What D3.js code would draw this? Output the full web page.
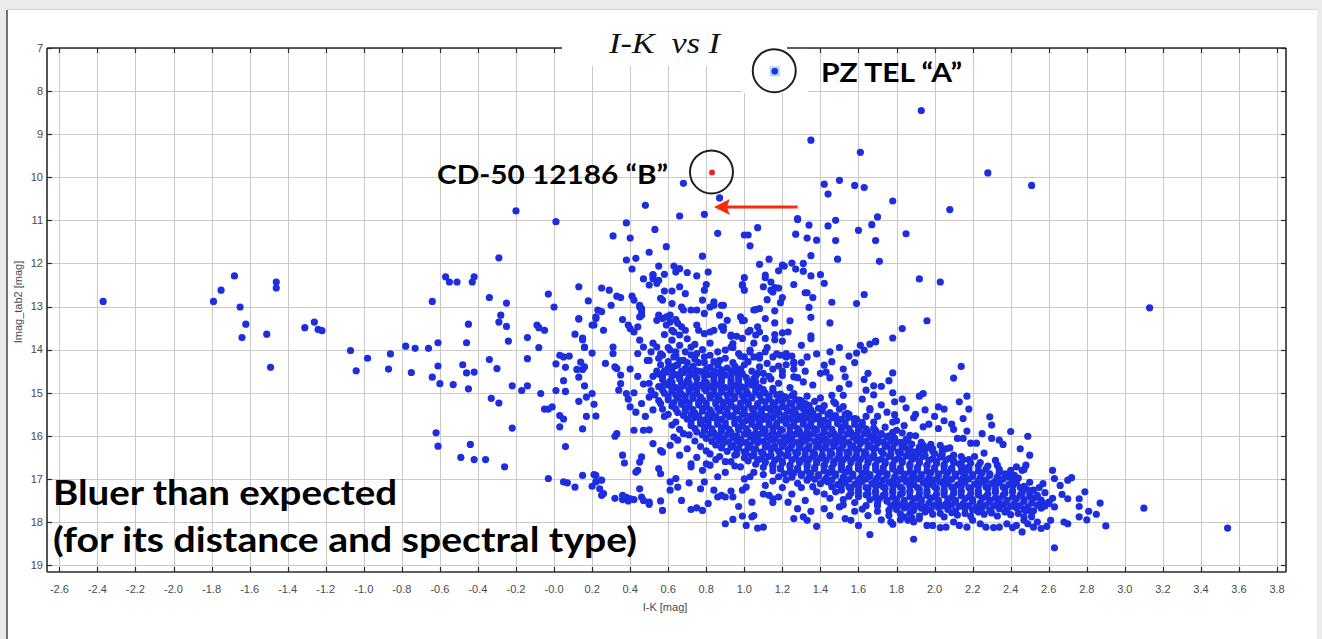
<!DOCTYPE html>
<html><head><meta charset="utf-8">
<script src="https://cdn.jsdelivr.net/npm/d3@7"></script>
<style>
html,body{margin:0;padding:0;background:#ebebeb;}
svg{display:block;}
</style></head><body>
<svg id="chart" width="1322" height="639"></svg>
<script>
// ---------- data ----------
const xTickLabels = ["-2.6","-2.4","-2.2","-2.0","-1.8","-1.6","-1.4","-1.2","-1.0","-0.8","-0.6","-0.4","-0.2","-0.0","0.2","0.4","0.6","0.8","1.0","1.2","1.4","1.6","1.8","2.0","2.2","2.4","2.6","2.8","3.0","3.2","3.4","3.6","3.8"];
const yTickLabels = ["7","8","9","10","11","12","13","14","15","16","17","18","19"];
const chartTitle = "I-K  vs I";
const xAxisTitle = "I-K [mag]";
const yAxisTitle = "Imag_tab2 [mag]";

const starA = [1.16, 7.54];   // PZ Tel "A"
const starB = [0.83, 9.89];   // CD-50 12186 "B"
const arrowFrom = [1.28, 10.69];
const arrowTo = [0.84, 10.69];

const blueStarsLeft = [
[-2.37,12.88],[-1.79,12.88],[-1.75,12.62],[-1.68,12.29],[-1.65,13.01],[-1.62,13.41],[-1.64,13.72],[-1.51,13.64],[-1.46,12.43],[-1.46,12.57],[-1.49,14.41],[-1.31,13.49],[-1.26,13.36],[-1.24,13.53],[-1.22,13.56],[-1.07,14.02],[-1.04,14.49],[-0.98,14.20],[-0.86,14.10],[-0.87,14.45],[-0.78,13.92],[-0.73,13.97],[-0.75,14.53],[-0.66,13.97],[-0.64,12.88],[-0.61,13.84],[-0.64,14.64],[-0.61,14.38],[-0.60,14.79],[-0.62,15.93],[-0.61,16.24],
[-0.57,12.31],[-0.55,12.43],[-0.51,12.43],[-0.43,12.43],[-0.42,12.31],[-0.34,12.79],[-0.25,12.92],[-0.45,13.41],[-0.28,13.20],[-0.29,13.36],[-0.25,13.46],[-0.53,14.81],[-0.48,14.35],[-0.46,14.54],[-0.42,14.52],[-0.46,13.84],[-0.45,14.91],[-0.34,14.23],[-0.30,14.44],[-0.24,13.80],[-0.14,13.72],[-0.08,13.95],[-0.14,14.21],[-0.22,14.84],[-0.17,14.95],[-0.14,14.84],[-0.07,15.02],[-0.33,15.13],[-0.29,15.24],[-0.22,15.82],[-0.44,16.20],[-0.49,16.50],[-0.42,16.55],[-0.36,16.55],[-0.26,16.72],[-0.03,16.99],[0.05,17.07],[0.07,17.09],[0.11,17.19],[0.15,16.92],[0.22,16.92],[0.20,17.17],[0.22,17.07],
[-0.05,13.55],[0.01,14.33],[0.03,14.13],[0.05,14.17],[0.08,14.15],[0.06,14.41],[0.11,13.64],[0.15,13.77],[0.16,13.95],[0.20,14.08],[0.14,14.29],[0.12,14.46],[0.15,14.46],[0.16,14.40],[0.13,14.64],[0.05,14.72],[0.01,14.95],[0.06,14.97],[0.16,14.84],[0.20,15.02],[0.17,15.10],[0.13,15.20],[0.21,15.27],[-0.05,15.38],[-0.03,15.38],[-0.01,15.33],[0.03,15.53],[0.05,15.61],[0.03,15.79],[0.15,15.84],[0.17,15.55],[0.22,15.54],[0.06,16.25],
[0.01,11.03],[0.38,11.06],[-0.29,11.87],[-0.09,13.43],[-0.08,13.49],[-0.03,12.71],[0.00,13.01],[0.13,12.54],[0.13,13.29],[0.18,12.87],[0.25,12.57],[0.29,12.62],[0.30,12.97],[0.21,13.43],[0.22,13.24],[0.23,13.08],[0.25,13.12],[0.26,13.55],[0.15,13.73],[0.16,13.94],[0.27,14.32],[0.31,13.94],[0.31,14.09],[0.33,12.76],[0.35,12.79],[0.36,13.30],[0.32,14.40],[0.33,14.44],[0.35,14.59],[0.35,14.79],[0.34,14.94],[0.38,15.02],[0.40,15.33],[0.31,11.36],[0.40,11.41],[0.38,11.92],[0.43,11.88],[0.41,12.13],[0.50,11.74],[0.53,11.21],[0.59,11.61],
[0.47,12.36],[0.50,12.50],[0.52,12.35],[0.52,12.27],[0.54,12.46],[0.55,12.39],[0.41,12.76],[0.42,12.85],[0.45,13.01],[0.46,13.12],[0.45,13.24],[0.39,13.43],[0.40,13.51],[0.42,13.59],[0.44,13.47],[0.13,13.28],[0.22,13.28],[0.20,13.43]
];

const blueStarsUpper = [
[1.35,9.14],[1.61,9.42],[1.42,10.16],[1.50,10.07],[1.58,10.19],[1.63,10.24],[1.44,10.39],[0.68,10.14],[0.87,10.48],[0.48,10.65],[0.66,10.90],[0.79,10.86],[-0.20,10.78],[1.28,10.96],[1.48,11.00],[1.70,10.92],[1.93,8.45],[2.28,9.90],[2.51,10.19],[1.78,10.55],[2.08,10.75],
[0.86,11.30],[0.78,11.83],[0.52,12.26],[0.55,12.06],[0.58,12.25],[0.63,12.06],[0.66,12.12],[0.64,12.20],[0.70,12.21],[0.75,12.29],[0.81,12.20],[0.58,12.64],[0.62,12.64],[0.66,12.54],[0.69,12.70],[0.57,12.85],[0.56,12.81],[0.80,12.49],[0.79,12.62],[0.78,12.85],[0.62,12.93],[0.67,13.01],[0.68,13.08],[0.72,13.08],[0.84,12.89],[0.82,13.01],[0.45,12.97],[0.46,13.05],[0.46,13.20],[0.55,13.20],[0.54,13.32],[0.57,13.28],[0.59,13.24],[0.61,13.36],[0.64,13.30],[0.65,13.39],[0.67,13.47],[0.69,13.55],[0.62,13.55],[0.59,13.43],[0.75,13.43],[0.76,13.55],[0.79,13.63],[0.82,13.59],[0.84,13.55],
[1.28,10.98],[1.34,11.11],[1.44,11.13],[1.60,11.23],[1.67,11.10],[1.85,11.31],[1.69,11.47],[1.07,11.17],[1.00,11.34],[1.02,11.34],[1.03,11.59],[1.27,11.32],[1.33,11.41],[1.38,11.46],[1.48,11.47],[1.35,11.82],[1.49,11.90],[1.71,11.95],[1.13,11.90],[1.08,12.02],[1.20,12.04],[1.21,12.06],[1.18,12.17],[1.25,11.99],[1.27,12.13],[1.31,12.00],[1.31,12.18],[1.35,12.29],[1.40,12.26],[1.42,12.46],[1.11,12.27],[1.11,12.33],[1.14,12.43],[1.10,12.54],[1.14,12.62],[1.16,12.56],[1.18,12.57],[1.15,12.66],[1.20,12.79],[1.19,12.91],[1.12,12.84],[1.00,12.33],[0.99,12.49],[1.00,12.62],[1.26,12.49],[1.32,12.68],[1.33,12.68],[1.36,12.79],[1.34,13.02],[1.35,13.25],[1.46,12.90],[1.59,12.93],[1.63,12.72],[1.92,12.36],[2.03,12.43],
[0.89,12.97],[1.06,13.07],[1.11,13.28],[1.16,13.10],[1.16,13.38],[1.24,13.33],[1.20,13.61],[1.23,13.59],[1.35,13.68],[1.45,13.38],[1.83,13.51],[1.96,13.33],[1.69,13.80],[1.78,13.73],[0.98,13.24],[0.99,13.33],[0.88,13.47],[0.89,13.55],[0.93,13.69],[0.96,13.69],[1.02,13.59],[1.07,13.47],[1.08,13.59],[1.11,13.74],[1.16,13.77],
[0.61,13.20],[0.66,13.66],[0.63,13.59],[0.75,13.08],[0.79,13.16],[0.84,12.97],[0.88,12.97],[0.87,13.20],[0.91,13.32],[0.89,13.47],[0.93,13.66],[0.94,13.86],[0.99,13.74],[1.03,13.55],[1.06,13.66],[1.00,13.32],[0.99,12.51],[1.05,13.08],[1.08,13.05]
];

const blueStarsRight = [
[3.13,13.03],[2.14,14.39],[2.10,14.66],[1.78,14.54],[1.76,14.72],[1.92,15.08],[1.94,15.02],[1.79,15.21],[1.79,15.51],[2.02,15.33],[2.05,15.38],[2.13,15.21],[2.17,15.08],[2.18,15.38],[2.29,15.56],[1.89,15.58],
[1.61,13.90],[1.66,13.87],[1.69,13.82],[1.59,14.08],[1.63,14.01],[1.42,14.36],[1.46,14.28],[1.43,14.52],[1.53,14.63],[1.63,14.69],[1.68,14.84],[1.64,14.94],[1.33,14.17],[1.26,14.29],[1.22,14.09],[1.26,14.63],[1.31,14.75],[1.29,15.17],[1.46,15.06],[1.52,15.06],[1.47,15.21],[1.66,15.37],[1.58,15.60],[1.54,15.48],
[1.45,14.65],[1.50,14.90],[1.55,14.80],[1.62,15.15],[1.68,15.05],[1.72,15.28],[1.75,15.45],[1.80,15.65],[1.85,15.35],[1.70,15.55],[1.66,15.40],[1.40,14.55],[1.36,14.82],[1.48,15.25],[1.52,14.45],[1.58,14.30],[1.65,14.55],[1.72,14.85],[1.78,15.00],[1.83,15.15],[1.90,15.50],[1.95,15.40],[2.00,15.55],[2.05,15.65],[2.10,15.85],[2.15,15.60],[2.25,15.95],[2.30,15.75],[2.40,15.90],[2.36,16.20],[2.45,16.30],[2.50,16.45],[1.26,14.45],[1.30,14.30],[1.20,14.60],[1.38,14.10],[1.45,14.05],[1.50,13.95],[1.55,14.15],
[2.49,16.01],[2.30,16.06],[2.34,16.10],[2.17,15.89],[2.22,16.17],[2.19,16.17],[2.15,16.06],[2.12,16.06],[2.09,15.73],[2.02,15.83],[1.97,15.73],[1.94,15.79],[1.87,15.99],[1.83,15.93],[1.78,16.03],[1.80,15.87],[1.84,15.76],[1.78,15.68],[2.26,16.40],[2.21,16.48],[2.17,16.75],[2.13,16.65],[2.10,16.45],[2.06,16.30],[2.03,16.22],[1.99,16.30],[1.94,16.22],[1.92,16.34],[1.89,16.45],[1.83,16.26],[2.32,16.57],[2.33,16.68],[2.37,16.88],[2.40,16.80],[2.43,16.72],[2.46,16.80],[2.48,16.68],[2.47,16.78],[2.42,16.92],[2.39,16.96],[2.34,17.07],[2.47,17.17],[2.48,17.23],[2.52,17.26],[2.54,17.42],[2.57,17.11],[2.62,16.80],[2.63,16.99],[2.66,17.15],[2.70,17.03],[2.72,16.97],[2.67,17.36],[2.70,17.46],[2.76,17.46],[2.76,17.64],[2.79,17.30],[2.76,17.88],[2.80,17.95],[2.81,17.75],[2.85,17.82],[2.87,17.56],[2.90,18.09],[2.68,18.00],[2.70,18.04],[2.63,17.65],[2.60,17.54],[2.57,17.57],[2.61,17.96],[2.56,18.15],[2.59,18.10],[2.63,18.60],[3.54,18.14],[3.10,17.68],[2.46,18.23],
[2.48,17.73],[2.51,17.88],[2.54,18.00],[2.52,18.12],[2.49,18.04],[2.47,17.96],[2.43,18.08],[2.41,18.13],[2.38,18.04],[2.34,18.12],[2.31,18.13],[2.27,18.12],[2.24,18.04],[2.20,17.96],[2.17,18.12],[2.13,18.08],[2.10,18.00],[2.06,18.12],[2.03,18.13],[1.99,18.08],[1.96,18.08],[1.92,17.92],[1.89,18.00],[1.86,17.96],[1.77,18.00],[1.89,18.40],[1.84,17.88],[1.82,17.81],[1.76,17.73]
];

const blueStarsLower = [
[0.21,16.90],[0.25,17.03],[0.24,17.23],[0.26,17.34],[0.25,17.38],[0.32,17.45],[0.36,17.38],[0.38,17.43],[0.36,17.48],[0.39,17.51],[0.40,17.46],[0.42,17.48],[0.45,17.23],[0.46,17.42],[0.47,17.50],[0.50,17.54],[0.50,17.59],[0.56,17.51],[0.57,17.73],[0.67,17.50],[0.72,17.71],[0.75,17.67],[0.78,17.73],[0.81,17.57],[0.90,18.04],[0.94,17.94],[0.99,17.86],[1.01,18.08],[1.04,17.88],[1.05,17.85],[1.07,18.14],[1.10,18.12],[0.36,16.45],[0.37,16.63],[0.44,16.80],[0.45,16.61],[0.46,16.49],[0.43,16.84],[0.55,16.76],[0.56,16.88],[0.61,17.07],[0.61,17.26],[0.64,16.99],[0.65,17.19],[0.72,16.72],[0.71,17.09],[0.77,17.23],[0.79,17.07],[0.80,16.65],[0.82,16.68],[0.84,17.26],[0.86,17.42],[0.88,17.38],[0.90,17.42],[0.93,17.28],[0.94,17.42],[0.97,17.64],[0.99,17.26],[1.01,17.19],[1.04,17.54],[1.11,17.15],[1.13,17.38],[1.15,17.46],[1.18,17.42],[1.23,17.54],[1.26,17.92],[1.28,17.69],[1.31,17.88],[1.33,17.96],[1.38,18.10],[1.42,17.69],[1.50,17.65],[1.53,17.92],[1.56,17.96],[1.60,18.08],[1.66,18.29],
[1.20,17.20],[1.25,17.35],[1.32,17.50],[1.38,17.30],[1.45,17.45],[1.52,17.60],[1.58,17.75],[1.65,17.85],[1.72,17.95],[1.78,18.05],[1.10,17.35],[1.15,17.55],[1.35,17.75],[1.45,17.85],[1.62,17.70],[1.70,17.75],[1.55,17.40],[1.28,17.10],[1.18,16.95],[1.05,16.85],[1.00,17.00],[0.95,16.70],[0.90,16.85],
[0.65,16.10],[0.70,16.30],[0.75,16.50],[0.80,16.35],[0.85,16.55],[0.90,16.60],[0.72,16.65],[0.68,15.95],[0.62,15.75],[0.58,15.55],[0.66,16.45],[0.78,16.80],[0.86,16.95],[0.95,16.45],
[0.40,14.45],[0.44,14.62],[0.47,14.80],[0.42,15.00],[0.50,15.10],[0.46,15.25],[0.52,15.40],[0.48,15.55],[0.54,14.50],[0.51,14.95],[0.43,15.45],[0.56,15.25],[0.39,15.15],
[0.42,15.87],[0.50,15.86],[0.47,15.87],[0.52,16.18],[0.56,16.34],[0.57,16.38],[0.63,16.03],[0.61,16.22],[0.33,15.95],[0.32,16.01]
];

const blueStarsMid = [
[0.45,13.78],[0.47,13.94],[0.44,14.09],[0.49,14.25],[0.51,14.05],[0.54,13.94],[0.57,14.13],[0.61,14.01],[0.64,14.13],[0.63,14.17],[0.66,14.25],[0.69,14.05],[0.72,13.94],[0.75,14.09],[0.79,14.17],[0.82,14.13],[0.87,14.25],[0.90,14.01],[0.93,13.94],[0.97,14.09],[1.00,14.17],[1.03,14.01],[1.05,14.17],[1.08,14.13],[1.11,14.05],[1.15,14.17],[1.19,14.13],[1.22,14.17],[1.26,14.32],
[1.12,13.95],[1.17,14.10],[1.22,14.35],[1.08,14.20],[1.03,14.05],[1.15,14.45],[1.10,14.55],[1.25,14.15],[1.30,13.90],[1.20,13.80],[1.05,13.85],[1.32,14.50],[1.00,14.35],[1.28,14.65],[1.16,13.65],[1.35,13.75],
[0.58,13.65],[0.62,13.78],[0.66,13.90],[0.70,13.75],[0.74,13.88],[0.78,14.00],[0.72,14.12],[0.68,14.25],[0.64,14.05],[0.60,13.95],[0.56,14.10],[0.82,13.85],[0.86,14.05],[0.90,14.20],[0.94,13.95],[0.98,14.15],[0.76,14.30],[0.84,14.28],[0.52,13.85],[0.50,14.25]
];

const blueStarsEdge = [
[1.07,14.55],[1.13,14.62],[1.10,14.72],[1.18,14.78],[1.15,14.90],[1.24,14.88],[1.26,15.02],[1.33,15.08],[1.37,15.20],[1.42,15.30],[1.40,15.12],[1.50,15.38],[1.55,15.50],[1.52,15.32],[1.64,15.55],[1.68,15.68],[1.74,15.80],[1.72,15.95],[1.78,15.92],[1.85,16.08],[1.90,16.00],[1.93,16.15],[1.98,16.20],[2.04,16.35],[2.08,16.28],[2.14,16.48],[2.18,16.55],[2.24,16.62],[2.28,16.70],[2.34,16.78],[2.40,16.86],[2.44,16.98],[2.50,17.08],[2.55,17.20],[2.58,17.32],[2.62,17.45],
[0.52,14.62],[0.50,14.78],[0.53,15.05],[0.55,15.18],[0.57,15.38],[0.60,15.50],[0.64,15.68],[0.66,15.85],[0.71,15.98],[0.74,16.12],[0.77,16.25],[0.82,16.42],[0.87,16.48],[0.93,16.60],[0.98,16.72],[1.03,16.95],[1.10,16.90],[1.15,17.05],[1.22,17.02],[1.30,17.20],[1.36,17.18],[1.42,17.35],[1.48,17.30],[1.52,17.48],[1.58,17.55],[1.64,17.62],[1.70,17.62],[1.76,17.85],[1.82,17.95],[1.88,17.90],
[0.98,14.45],[1.04,14.50],[1.08,14.40],[1.12,14.32],[1.18,14.38],[1.02,14.28],[0.94,14.30],[1.06,14.62],[1.14,14.68],[1.20,14.50],
[0.56,14.35],[0.60,14.28],[0.65,14.35],[0.70,14.30],[0.74,14.22],[0.79,14.30],[0.55,14.20],[0.62,14.40]
];

const blueStarsCore = [
[0.60,14.42],[0.64,14.37],[0.69,14.44],[0.73,14.39],[0.82,14.41],[0.86,14.36],[0.91,14.43],[0.95,14.38],
[0.55,14.57],[0.59,14.52],[0.64,14.58],[0.68,14.53],[0.73,14.56],[0.77,14.51],[0.81,14.58],[0.86,14.54],[0.90,14.59],[0.95,14.52],[0.99,14.56],
[0.57,14.69],[0.61,14.73],[0.66,14.68],[0.70,14.72],[0.75,14.67],[0.79,14.74],[0.84,14.70],[0.88,14.66],[0.93,14.72],[0.97,14.69],[1.02,14.74],[1.05,14.67],
[0.55,14.86],[0.60,14.82],[0.64,14.88],[0.68,14.84],[0.73,14.87],[0.77,14.83],[0.82,14.86],[0.86,14.81],[0.90,14.88],[0.95,14.84],[0.99,14.87],[1.04,14.82],[1.08,14.88],
[0.58,15.01],[0.62,14.97],[0.67,15.03],[0.71,14.98],[0.75,15.02],[0.80,14.96],[0.84,15.03],[0.88,14.99],[0.93,15.02],[0.97,14.97],[1.02,15.03],[1.06,14.98],[1.11,15.01],[1.15,14.96],[1.19,15.03],
[0.60,15.16],[0.65,15.12],[0.69,15.18],[0.73,15.13],[0.78,15.17],[0.82,15.12],[0.87,15.16],[0.91,15.19],[0.95,15.13],[1.00,15.17],[1.04,15.12],[1.09,15.18],[1.13,15.14],[1.18,15.17],[1.22,15.12],[1.27,15.16],[1.30,15.19],
[0.62,15.31],[0.67,15.27],[0.71,15.33],[0.76,15.28],[0.80,15.32],[0.85,15.26],[0.89,15.33],[0.93,15.29],[0.98,15.32],[1.02,15.27],[1.07,15.31],[1.11,15.34],[1.16,15.28],[1.20,15.32],[1.25,15.27],[1.29,15.33],[1.34,15.29],
[0.65,15.46],[0.69,15.42],[0.74,15.47],[0.78,15.43],[0.83,15.48],[0.87,15.42],[0.91,15.46],[0.96,15.43],[1.00,15.48],[1.05,15.44],[1.09,15.47],[1.14,15.42],[1.18,15.46],[1.23,15.43],[1.27,15.48],[1.32,15.44],[1.36,15.47],[1.41,15.42],[1.45,15.46],
[0.70,15.61],[0.74,15.57],[0.79,15.63],[0.83,15.58],[0.88,15.62],[0.92,15.56],[0.97,15.61],[1.01,15.64],[1.06,15.58],[1.10,15.62],[1.15,15.57],[1.19,15.63],[1.24,15.59],[1.28,15.62],[1.33,15.57],[1.37,15.61],[1.42,15.64],[1.46,15.58],[1.51,15.62],[1.55,15.57],[1.59,15.61],
[0.72,15.76],[0.77,15.72],[0.81,15.77],[0.86,15.73],[0.90,15.78],[0.95,15.72],[0.99,15.76],[1.04,15.73],[1.08,15.78],[1.13,15.74],[1.17,15.77],[1.22,15.72],[1.26,15.76],[1.31,15.73],[1.35,15.78],[1.40,15.74],[1.44,15.77],[1.49,15.72],[1.53,15.76],[1.58,15.73],[1.62,15.77],
[0.75,15.91],[0.79,15.87],[0.84,15.93],[0.88,15.88],[0.93,15.92],[0.97,15.86],[1.02,15.91],[1.06,15.94],[1.11,15.88],[1.15,15.92],[1.20,15.87],[1.24,15.93],[1.29,15.89],[1.33,15.92],[1.38,15.87],[1.42,15.91],[1.47,15.94],[1.51,15.88],[1.56,15.92],[1.60,15.87],[1.65,15.91],[1.69,15.88],
[0.80,16.06],[0.85,16.02],[0.89,16.07],[0.94,16.03],[0.98,16.08],[1.03,16.02],[1.07,16.06],[1.12,16.03],[1.16,16.08],[1.21,16.04],[1.25,16.07],[1.30,16.02],[1.34,16.06],[1.39,16.03],[1.43,16.08],[1.48,16.04],[1.52,16.07],[1.57,16.02],[1.61,16.06],[1.66,16.03],[1.70,16.07],[1.75,16.02],[1.79,16.06],
[0.85,16.21],[0.89,16.17],[0.94,16.23],[0.98,16.18],[1.03,16.22],[1.07,16.16],[1.12,16.21],[1.16,16.24],[1.21,16.18],[1.25,16.22],[1.30,16.17],[1.34,16.23],[1.39,16.19],[1.43,16.22],[1.48,16.17],[1.52,16.21],[1.57,16.24],[1.61,16.18],[1.66,16.22],[1.70,16.17],[1.75,16.21],[1.79,16.18],[1.84,16.23],[1.88,16.19],
[0.91,16.36],[0.96,16.32],[1.00,16.37],[1.05,16.33],[1.09,16.38],[1.14,16.32],[1.18,16.36],[1.23,16.33],[1.27,16.38],[1.32,16.34],[1.36,16.37],[1.41,16.32],[1.45,16.36],[1.50,16.33],[1.54,16.38],[1.59,16.34],[1.63,16.37],[1.68,16.32],[1.72,16.36],[1.77,16.33],[1.81,16.38],[1.86,16.34],[1.90,16.37],[1.95,16.32],[1.99,16.36],
[1.00,16.51],[1.04,16.47],[1.09,16.53],[1.13,16.48],[1.18,16.52],[1.22,16.46],[1.27,16.51],[1.31,16.54],[1.36,16.48],[1.40,16.52],[1.45,16.47],[1.49,16.53],[1.54,16.49],[1.58,16.52],[1.63,16.47],[1.67,16.51],[1.72,16.54],[1.76,16.48],[1.81,16.52],[1.85,16.47],[1.90,16.51],[1.94,16.48],[1.99,16.53],[2.03,16.49],[2.08,16.52],
[1.06,16.66],[1.11,16.62],[1.15,16.67],[1.20,16.63],[1.24,16.68],[1.29,16.62],[1.33,16.66],[1.38,16.63],[1.42,16.68],[1.47,16.64],[1.51,16.67],[1.56,16.62],[1.60,16.66],[1.65,16.63],[1.69,16.68],[1.74,16.64],[1.78,16.67],[1.83,16.62],[1.87,16.66],[1.92,16.63],[1.96,16.68],[2.01,16.64],[2.05,16.67],[2.10,16.62],[2.14,16.66],[2.19,16.63],
[1.15,16.81],[1.19,16.77],[1.24,16.83],[1.28,16.78],[1.33,16.82],[1.37,16.76],[1.42,16.81],[1.46,16.84],[1.51,16.78],[1.55,16.82],[1.60,16.77],[1.64,16.83],[1.69,16.79],[1.73,16.82],[1.78,16.77],[1.82,16.81],[1.87,16.84],[1.91,16.78],[1.96,16.82],[2.00,16.77],[2.05,16.81],[2.09,16.78],[2.14,16.83],[2.18,16.79],[2.23,16.82],[2.27,16.77],
[1.25,16.96],[1.30,16.92],[1.34,16.97],[1.39,16.93],[1.43,16.98],[1.48,16.92],[1.52,16.96],[1.57,16.93],[1.61,16.98],[1.66,16.94],[1.70,16.97],[1.75,16.92],[1.79,16.96],[1.84,16.93],[1.88,16.98],[1.93,16.94],[1.97,16.97],[2.02,16.92],[2.06,16.96],[2.11,16.93],[2.15,16.98],[2.20,16.94],[2.24,16.97],[2.29,16.92],[2.33,16.96],[2.38,16.93],
[1.40,17.11],[1.44,17.07],[1.49,17.13],[1.53,17.08],[1.58,17.12],[1.62,17.06],[1.67,17.11],[1.71,17.14],[1.76,17.08],[1.80,17.12],[1.85,17.07],[1.89,17.13],[1.94,17.09],[1.98,17.12],[2.03,17.07],[2.07,17.11],[2.12,17.14],[2.16,17.08],[2.21,17.12],[2.25,17.07],[2.30,17.11],[2.34,17.08],[2.39,17.13],[2.43,17.09],
[1.51,17.26],[1.56,17.22],[1.60,17.27],[1.65,17.23],[1.69,17.28],[1.74,17.22],[1.78,17.26],[1.83,17.23],[1.87,17.28],[1.92,17.24],[1.96,17.27],[2.01,17.22],[2.05,17.26],[2.10,17.23],[2.14,17.28],[2.19,17.24],[2.23,17.27],[2.28,17.22],[2.32,17.26],[2.37,17.23],[2.41,17.28],[2.46,17.24],[2.50,17.27],
[1.60,17.41],[1.64,17.37],[1.69,17.43],[1.73,17.38],[1.78,17.42],[1.82,17.36],[1.87,17.41],[1.91,17.44],[1.96,17.38],[2.00,17.42],[2.05,17.37],[2.09,17.43],[2.14,17.39],[2.18,17.42],[2.23,17.37],[2.27,17.41],[2.32,17.44],[2.36,17.38],[2.41,17.42],[2.45,17.37],[2.50,17.41],[2.54,17.38],
[1.70,17.56],[1.75,17.52],[1.79,17.57],[1.84,17.53],[1.88,17.58],[1.93,17.52],[1.97,17.56],[2.02,17.53],[2.06,17.58],[2.11,17.54],[2.15,17.57],[2.20,17.52],[2.24,17.56],[2.29,17.53],[2.33,17.58],[2.38,17.54],[2.42,17.57],[2.47,17.52],[2.51,17.56],[2.56,17.53],[2.60,17.57],
[1.80,17.71],[1.84,17.67],[1.89,17.73],[1.93,17.68],[1.98,17.72],[2.02,17.66],[2.07,17.71],[2.11,17.74],[2.16,17.68],[2.20,17.72],[2.25,17.67],[2.29,17.73],[2.34,17.69],[2.38,17.72],[2.43,17.67],[2.47,17.71],[2.52,17.74],[2.56,17.68],
[1.92,17.86],[1.99,17.82],[2.05,17.88],[2.12,17.84],[2.19,17.87],[2.26,17.82],[2.33,17.86],[2.40,17.83],[2.47,17.88]
];

const blueStarsCoreInner = [
[0.58,14.49],[0.62,14.46],[0.67,14.50],[0.71,14.47],[0.75,14.49],[0.80,14.46],[0.84,14.50],[0.88,14.47],[0.93,14.49],[0.97,14.46],
[0.57,14.63],[0.62,14.61],[0.66,14.64],[0.71,14.62],[0.75,14.65],[0.79,14.61],[0.84,14.63],[0.88,14.60],[0.93,14.64],[0.97,14.62],[1.01,14.65],
[0.58,14.78],[0.62,14.76],[0.67,14.79],[0.71,14.77],[0.75,14.80],[0.80,14.76],[0.84,14.78],[0.88,14.75],[0.93,14.79],[0.97,14.77],[1.02,14.80],[1.06,14.76],
[0.57,14.93],[0.62,14.91],[0.66,14.94],[0.71,14.92],[0.75,14.95],[0.79,14.91],[0.84,14.93],[0.88,14.90],[0.93,14.94],[0.97,14.92],[1.01,14.95],[1.06,14.91],[1.10,14.93],
[0.60,15.08],[0.64,15.06],[0.69,15.09],[0.73,15.07],[0.77,15.10],[0.82,15.06],[0.86,15.08],[0.91,15.05],[0.95,15.09],[0.99,15.07],[1.04,15.10],[1.08,15.06],[1.13,15.08],[1.17,15.05],[1.21,15.09],[1.25,15.07],
[0.63,15.23],[0.67,15.21],[0.71,15.24],[0.76,15.22],[0.80,15.25],[0.85,15.21],[0.89,15.23],[0.93,15.20],[0.98,15.24],[1.02,15.22],[1.07,15.25],[1.11,15.21],[1.15,15.23],[1.20,15.20],[1.24,15.24],[1.29,15.22],[1.32,15.25],
[0.64,15.38],[0.69,15.36],[0.73,15.39],[0.78,15.37],[0.82,15.40],[0.86,15.36],[0.91,15.38],[0.95,15.35],[1.00,15.39],[1.04,15.37],[1.09,15.40],[1.13,15.36],[1.17,15.38],[1.22,15.35],[1.26,15.39],[1.31,15.37],[1.35,15.40],[1.39,15.36],
[0.68,15.53],[0.72,15.51],[0.76,15.54],[0.81,15.52],[0.85,15.55],[0.90,15.51],[0.94,15.53],[0.99,15.50],[1.03,15.54],[1.08,15.52],[1.12,15.55],[1.17,15.51],[1.21,15.53],[1.26,15.50],[1.30,15.54],[1.35,15.52],[1.39,15.55],[1.44,15.51],[1.48,15.53],[1.53,15.50],
[0.72,15.68],[0.77,15.66],[0.81,15.69],[0.86,15.67],[0.90,15.70],[0.95,15.66],[0.99,15.68],[1.04,15.65],[1.08,15.69],[1.13,15.67],[1.17,15.70],[1.22,15.66],[1.26,15.68],[1.31,15.65],[1.35,15.69],[1.40,15.67],[1.44,15.70],[1.49,15.66],[1.53,15.68],[1.58,15.65],[1.62,15.69],
[0.74,15.83],[0.79,15.81],[0.83,15.84],[0.88,15.82],[0.92,15.85],[0.97,15.81],[1.01,15.83],[1.06,15.80],[1.10,15.84],[1.15,15.82],[1.19,15.85],[1.24,15.81],[1.28,15.83],[1.33,15.80],[1.37,15.84],[1.42,15.82],[1.46,15.85],[1.51,15.81],[1.55,15.83],[1.60,15.80],[1.64,15.84],[1.68,15.82],
[0.78,15.98],[0.82,15.96],[0.87,15.99],[0.91,15.97],[0.96,16.00],[1.00,15.96],[1.05,15.98],[1.09,15.95],[1.14,15.99],[1.18,15.97],[1.23,16.00],[1.27,15.96],[1.32,15.98],[1.36,15.95],[1.41,15.99],[1.45,15.97],[1.50,16.00],[1.54,15.96],[1.59,15.98],[1.63,15.95],[1.68,15.99],[1.72,15.97],[1.76,16.00],
[0.83,16.13],[0.87,16.11],[0.92,16.14],[0.96,16.12],[1.01,16.15],[1.05,16.11],[1.10,16.13],[1.14,16.10],[1.19,16.14],[1.23,16.12],[1.28,16.15],[1.32,16.11],[1.37,16.13],[1.41,16.10],[1.46,16.14],[1.50,16.12],[1.55,16.15],[1.59,16.11],[1.64,16.13],[1.68,16.10],[1.73,16.14],[1.77,16.12],[1.82,16.15],[1.86,16.11],
[0.88,16.28],[0.93,16.26],[0.97,16.29],[1.02,16.27],[1.06,16.30],[1.11,16.26],[1.15,16.28],[1.20,16.25],[1.24,16.29],[1.29,16.27],[1.33,16.30],[1.38,16.26],[1.42,16.28],[1.47,16.25],[1.51,16.29],[1.56,16.27],[1.60,16.30],[1.65,16.26],[1.69,16.28],[1.74,16.25],[1.78,16.29],[1.83,16.27],[1.87,16.30],[1.92,16.26],[1.96,16.28],
[0.96,16.43],[1.01,16.41],[1.05,16.44],[1.10,16.42],[1.14,16.45],[1.19,16.41],[1.23,16.43],[1.28,16.40],[1.32,16.44],[1.37,16.42],[1.41,16.45],[1.46,16.41],[1.50,16.43],[1.55,16.40],[1.59,16.44],[1.64,16.42],[1.68,16.45],[1.73,16.41],[1.77,16.43],[1.82,16.40],[1.86,16.44],[1.91,16.42],[1.95,16.45],[2.00,16.41],[2.04,16.43],
[1.02,16.58],[1.07,16.56],[1.11,16.59],[1.16,16.57],[1.20,16.60],[1.25,16.56],[1.29,16.58],[1.34,16.55],[1.38,16.59],[1.43,16.57],[1.47,16.60],[1.52,16.56],[1.56,16.58],[1.61,16.55],[1.65,16.59],[1.70,16.57],[1.74,16.60],[1.79,16.56],[1.83,16.58],[1.88,16.55],[1.92,16.59],[1.97,16.57],[2.01,16.60],[2.06,16.56],[2.10,16.58],[2.15,16.55],
[1.10,16.73],[1.15,16.71],[1.19,16.74],[1.24,16.72],[1.28,16.75],[1.33,16.71],[1.37,16.73],[1.42,16.70],[1.46,16.74],[1.51,16.72],[1.55,16.75],[1.60,16.71],[1.64,16.73],[1.69,16.70],[1.73,16.74],[1.78,16.72],[1.82,16.75],[1.87,16.71],[1.91,16.73],[1.96,16.70],[2.00,16.74],[2.05,16.72],[2.09,16.75],[2.14,16.71],[2.18,16.73],[2.23,16.70],
[1.21,16.88],[1.26,16.86],[1.30,16.89],[1.35,16.87],[1.39,16.90],[1.44,16.86],[1.48,16.88],[1.53,16.85],[1.57,16.89],[1.62,16.87],[1.66,16.90],[1.71,16.86],[1.75,16.88],[1.80,16.85],[1.84,16.89],[1.89,16.87],[1.93,16.90],[1.98,16.86],[2.02,16.88],[2.07,16.85],[2.11,16.89],[2.16,16.87],[2.20,16.90],[2.25,16.86],[2.29,16.88],[2.34,16.85],
[1.33,17.03],[1.37,17.01],[1.42,17.04],[1.46,17.02],[1.51,17.05],[1.55,17.01],[1.60,17.03],[1.64,17.00],[1.69,17.04],[1.73,17.02],[1.78,17.05],[1.82,17.01],[1.87,17.03],[1.91,17.00],[1.96,17.04],[2.00,17.02],[2.05,17.05],[2.09,17.01],[2.14,17.03],[2.18,17.00],[2.23,17.04],[2.27,17.02],[2.32,17.05],[2.36,17.01],[2.41,17.03],
[1.46,17.18],[1.51,17.16],[1.55,17.19],[1.60,17.17],[1.64,17.20],[1.69,17.16],[1.73,17.18],[1.78,17.15],[1.82,17.19],[1.87,17.17],[1.91,17.20],[1.96,17.16],[2.00,17.18],[2.05,17.15],[2.09,17.19],[2.14,17.17],[2.18,17.20],[2.23,17.16],[2.27,17.18],[2.32,17.15],[2.36,17.19],[2.41,17.17],[2.45,17.20],
[1.56,17.33],[1.60,17.31],[1.65,17.34],[1.69,17.32],[1.74,17.35],[1.78,17.31],[1.83,17.33],[1.87,17.30],[1.92,17.34],[1.96,17.32],[2.01,17.35],[2.05,17.31],[2.10,17.33],[2.14,17.30],[2.19,17.34],[2.23,17.32],[2.28,17.35],[2.32,17.31],[2.37,17.33],[2.41,17.30],[2.46,17.34],[2.50,17.32],
[1.66,17.48],[1.71,17.46],[1.75,17.49],[1.80,17.47],[1.84,17.50],[1.89,17.46],[1.93,17.48],[1.98,17.45],[2.02,17.49],[2.07,17.47],[2.11,17.50],[2.16,17.46],[2.20,17.48],[2.25,17.45],[2.29,17.49],[2.34,17.47],[2.38,17.50],[2.43,17.46],[2.47,17.48],[2.52,17.45],[2.56,17.49],
[1.77,17.63],[1.82,17.61],[1.86,17.64],[1.91,17.62],[1.95,17.65],[2.00,17.61],[2.04,17.63],[2.09,17.60],[2.13,17.64],[2.18,17.62],[2.22,17.65],[2.27,17.61],[2.31,17.63],[2.36,17.60],[2.40,17.64],[2.45,17.62],[2.49,17.65],[2.54,17.61],[2.58,17.63],
[1.87,17.79],[1.95,17.77],[2.03,17.80],[2.09,17.78],[2.16,17.80],[2.23,17.77],[2.30,17.79],[2.37,17.77],[2.44,17.80],[2.51,17.78]
];

// ---------- layout ----------
const W = 1322, H = 639;
const plot = {left: 47, right: 1286, top: 48, bottom: 572};
const dotColor = "#1c2ee0";

const svg = d3.select("#chart");
const x = d3.scaleLinear().domain([-2.665, 3.847]).range([plot.left, plot.right]);
const y = d3.scaleLinear().domain([7, 19.16]).range([plot.top, plot.bottom]);

const xTicks = xTickLabels.map(s => parseFloat(s));
const yTicks = yTickLabels.map(s => +s);

// page panel
svg.append("rect").attr("x",0).attr("y",0).attr("width",W).attr("height",H).attr("fill","#ebebeb");
svg.append("rect").attr("x",7).attr("y",10).attr("width",1310).attr("height",H-10).attr("fill","#ffffff");
svg.append("line").attr("x1",7).attr("x2",7).attr("y1",10).attr("y2",H).attr("stroke","#444").attr("stroke-width",1.5);
svg.append("line").attr("x1",7).attr("x2",1317).attr("y1",9.5).attr("y2",9.5).attr("stroke","#d6d6d6").attr("stroke-width",1);

// grid
const grid = svg.append("g").attr("stroke","#c9c9c9").attr("stroke-width",1);
grid.selectAll("line.v").data(xTicks).enter().append("line")
  .attr("x1",d=>Math.round(x(d))+0.5).attr("x2",d=>Math.round(x(d))+0.5)
  .attr("y1",plot.top).attr("y2",plot.bottom);
grid.selectAll("line.h").data(yTicks).enter().append("line")
  .attr("y1",d=>Math.round(y(d))+0.5).attr("y2",d=>Math.round(y(d))+0.5)
  .attr("x1",plot.left).attr("x2",plot.right);

// pasted white boxes (title and PZ inset)
svg.append("rect").attr("x",562).attr("y",20).attr("width",225).attr("height",46).attr("fill","#fff");
svg.append("rect").attr("x",742).attr("y",47).attr("width",66).attr("height",46).attr("fill","#fff");

// stars
const allStars = [].concat(blueStarsLeft, blueStarsUpper, blueStarsRight, blueStarsLower, blueStarsMid, blueStarsEdge, blueStarsCore, blueStarsCoreInner);
svg.append("g").selectAll("circle").data(allStars).enter().append("circle")
  .attr("cx",d=>x(d[0])).attr("cy",d=>y(d[1])).attr("r",3.6).attr("fill",dotColor);

// frame and ticks
const frame = svg.append("g").attr("stroke","#2a2a2a").attr("stroke-width",1.6).attr("fill","none");
frame.append("line").attr("x1",plot.left).attr("x2",plot.left).attr("y1",plot.top).attr("y2",plot.bottom);
frame.append("line").attr("x1",plot.right).attr("x2",plot.right).attr("y1",plot.top).attr("y2",plot.bottom);
frame.append("line").attr("x1",plot.left).attr("x2",plot.right).attr("y1",plot.bottom).attr("y2",plot.bottom);
frame.append("line").attr("x1",plot.left).attr("x2",562).attr("y1",plot.top).attr("y2",plot.top);
frame.append("line").attr("x1",787).attr("x2",plot.right).attr("y1",plot.top).attr("y2",plot.top);
const tk = svg.append("g").attr("stroke","#2a2a2a").attr("stroke-width",1.2);
xTicks.forEach(v => {
  const px = Math.round(x(v))+0.5;
  tk.append("line").attr("x1",px).attr("x2",px).attr("y1",plot.bottom).attr("y2",plot.bottom-5);
  if (px < 562 || px > 787) tk.append("line").attr("x1",px).attr("x2",px).attr("y1",plot.top).attr("y2",plot.top+5);
});
yTicks.forEach(v => {
  const py = Math.round(y(v))+0.5;
  tk.append("line").attr("x1",plot.left).attr("x2",plot.left+5).attr("y1",py).attr("y2",py);
  tk.append("line").attr("x1",plot.right).attr("x2",plot.right-5).attr("y1",py).attr("y2",py);
});

// tick labels
const lab = svg.append("g").attr("font-family","'Liberation Sans', Arial, sans-serif").attr("font-size",11).attr("fill","#4a4a4a");
lab.selectAll("text.x").data(xTickLabels).enter().append("text")
  .attr("x",d=>x(parseFloat(d))).attr("y",593).attr("text-anchor","middle").text(d=>d);
lab.selectAll("text.y").data(yTickLabels).enter().append("text")
  .attr("x",plot.left-4).attr("y",d=>y(+d)).attr("dy","0.35em").attr("text-anchor","end").text(d=>d);
lab.append("text").attr("x",665).attr("y",611).attr("text-anchor","middle").text(xAxisTitle);
lab.append("text").attr("transform","translate(22,302) rotate(-90)").attr("text-anchor","middle").text(yAxisTitle);

// title
svg.append("text").attr("x",609).attr("y",53)
  .attr("font-family","'Liberation Serif', 'Times New Roman', serif").attr("font-style","italic")
  .attr("font-size",30).attr("fill","#111").attr("textLength",111).attr("lengthAdjust","spacingAndGlyphs")
  .attr("xml:space","preserve").style("white-space","pre").text(chartTitle);

// highlighted stars
svg.append("rect").attr("x",x(starA[0])-5).attr("y",y(starA[1])-5).attr("width",10).attr("height",10).attr("fill","#a9d6f3");
svg.append("circle").attr("cx",x(starA[0])).attr("cy",y(starA[1])).attr("r",3.2).attr("fill",dotColor);
svg.append("circle").attr("cx",x(starB[0])).attr("cy",y(starB[1])).attr("r",3).attr("fill","#e8262a");
[starA, starB].forEach(s => {
  svg.append("circle").attr("cx",x(s[0])-0.5).attr("cy",y(s[1])-0.6).attr("r",21.5)
    .attr("fill","none").attr("stroke","#1e1e1e").attr("stroke-width",2);
});

// red arrow
const ax1 = x(arrowFrom[0]), ax2 = x(arrowTo[0]), ay = y(arrowTo[1]);
svg.append("line").attr("x1",ax1).attr("x2",ax2+12).attr("y1",ay).attr("y2",ay).attr("stroke","#ff2a0a").attr("stroke-width",3.2);
svg.append("path").attr("d",`M${ax2},${ay} L${ax2+16},${ay-8} L${ax2+13},${ay} L${ax2+16},${ay+8} Z`).attr("fill","#ff2a0a");

// annotation texts
const ann = svg.append("g").attr("font-family","Lato, 'Open Sans', sans-serif").attr("font-weight","bold").attr("fill","#000");
ann.append("text").attr("x",821).attr("y",82).attr("font-size",27).attr("textLength",141).attr("lengthAdjust","spacingAndGlyphs").text("PZ TEL \u201CA\u201D");
ann.append("text").attr("x",437).attr("y",184).attr("font-size",27).attr("textLength",231).attr("lengthAdjust","spacingAndGlyphs").text("CD-50 12186 \u201CB\u201D");
ann.append("text").attr("x",53).attr("y",505).attr("font-size",35).attr("textLength",344).attr("lengthAdjust","spacingAndGlyphs").text("Bluer than expected");
ann.append("text").attr("x",53).attr("y",552).attr("font-size",35).attr("textLength",584).attr("lengthAdjust","spacingAndGlyphs").text("(for its distance and spectral type)");
</script>
</body></html>
